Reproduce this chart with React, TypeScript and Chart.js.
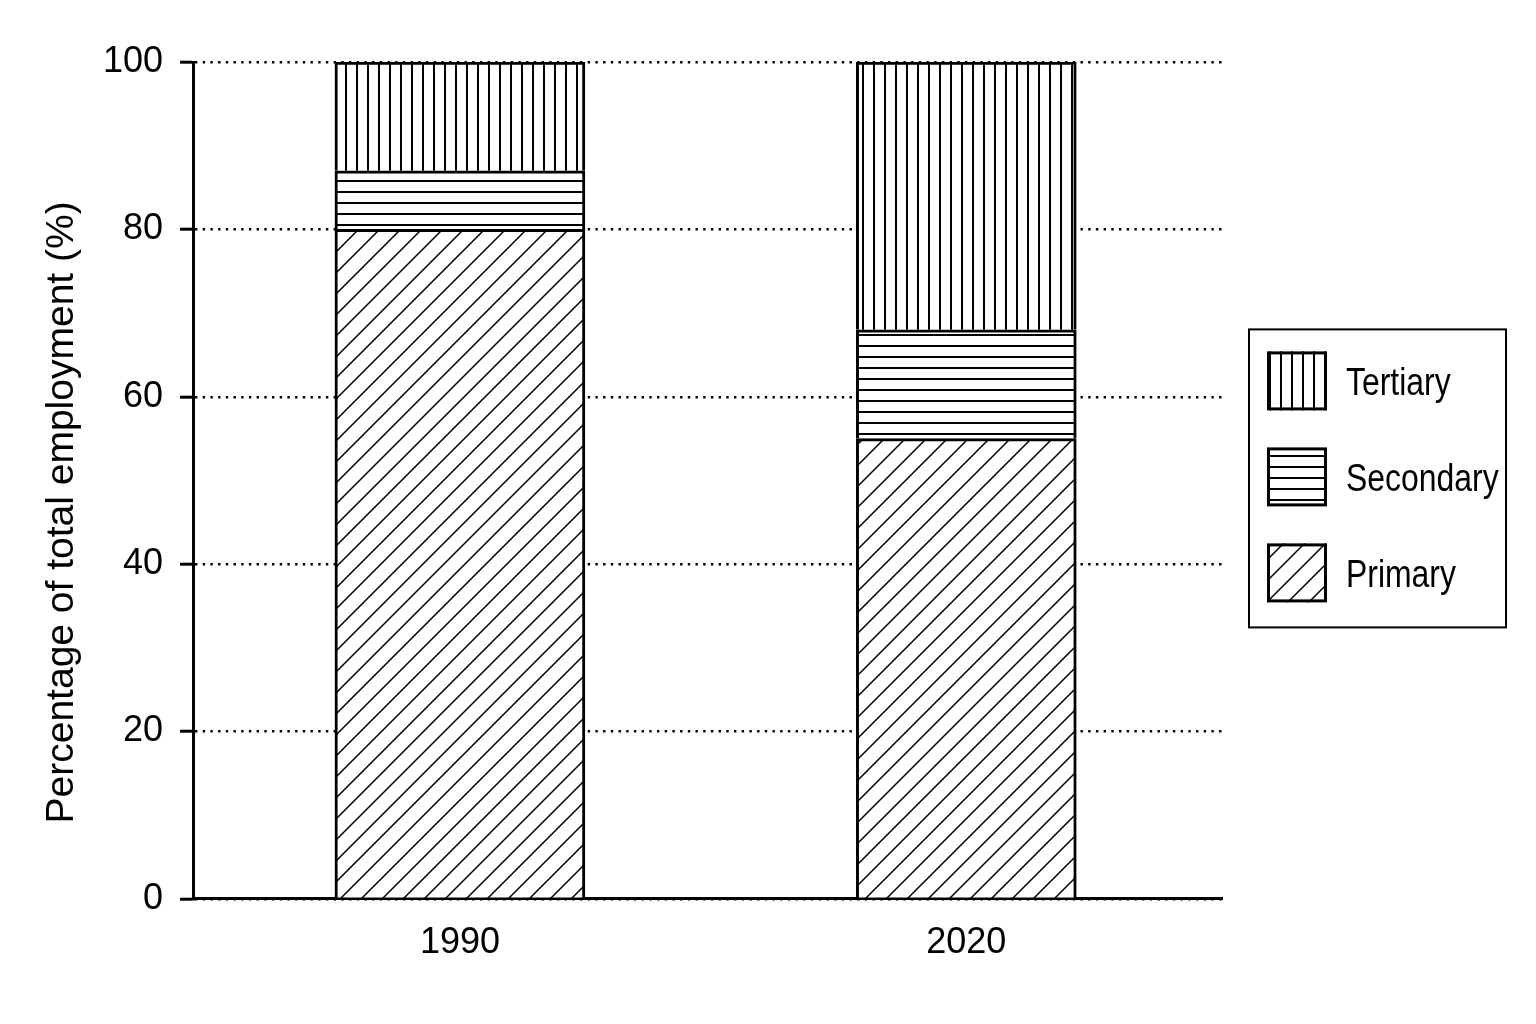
import { useEffect, useRef } from 'react'
import { Chart, registerables } from 'chart.js'

Chart.register(...registerables)

const YEARS = ['1990', '2020']
const PRIMARY = [80, 55]
const SECONDARY = [7, 13]
const TERTIARY = [13, 32]
const Y_TITLE = 'Percentage of total employment (%)'

type Hatch = 'diagonal' | 'horizontal' | 'vertical'

const SERIES: { label: string; values: number[]; hatch: Hatch }[] = [
  { label: 'Primary', values: PRIMARY, hatch: 'diagonal' },
  { label: 'Secondary', values: SECONDARY, hatch: 'horizontal' },
  { label: 'Tertiary', values: TERTIARY, hatch: 'vertical' },
]

// bars are not the same width in the original
const BAR_WIDTHS = [250, 220]
const FONT = 'Liberation Sans, Arial, Helvetica, sans-serif'

function makePattern(ctx: CanvasRenderingContext2D, hatch: Hatch): CanvasPattern {
  const s = hatch === 'diagonal' ? 21 : 11
  const c = document.createElement('canvas')
  c.width = s
  c.height = s
  const g = c.getContext('2d')!
  g.fillStyle = '#fff'
  g.fillRect(0, 0, s, s)
  g.strokeStyle = '#000'
  g.lineWidth = hatch === 'diagonal' ? 1.5 : 2
  g.beginPath()
  if (hatch === 'vertical') {
    g.moveTo(5, 0)
    g.lineTo(5, s)
  } else if (hatch === 'horizontal') {
    g.moveTo(0, 5)
    g.lineTo(s, 5)
  } else {
    g.moveTo(-1, s + 1)
    g.lineTo(s + 1, -1)
    g.moveTo(-s / 2, s / 2)
    g.lineTo(s / 2, -s / 2)
    g.moveTo(s / 2, s * 1.5)
    g.lineTo(s * 1.5, s / 2)
  }
  g.stroke()
  return ctx.createPattern(c, 'repeat')!
}

export default function App() {
  const canvasRef = useRef<HTMLCanvasElement | null>(null)

  useEffect(() => {
    if (!canvasRef.current) return
    const ctx = canvasRef.current.getContext('2d')
    if (!ctx) return

    const patterns: Record<Hatch, CanvasPattern> = {
      diagonal: makePattern(ctx, 'diagonal'),
      horizontal: makePattern(ctx, 'horizontal'),
      vertical: makePattern(ctx, 'vertical'),
    }

    // y title sits a bit below the middle of the axis in the original
    const axisTitle = {
      id: 'axisTitle',
      afterDraw(chart: Chart) {
        const c = chart.ctx
        const { left, top, bottom } = chart.chartArea
        c.save()
        c.translate(left - 120, (top + bottom) / 2 + 32)
        c.rotate(-Math.PI / 2)
        c.fillStyle = '#000'
        c.font = `39px ${FONT}`
        c.textAlign = 'center'
        c.textBaseline = 'alphabetic'
        c.fillText(Y_TITLE, 0, 0)
        c.restore()
      },
    }

    const boxLegend = {
      id: 'boxLegend',
      afterDraw(chart: Chart) {
        const c = chart.ctx
        const { right, top, bottom } = chart.chartArea
        const left = right + 27
        const mid = (top + bottom) / 2
        const boxTop = mid - 151
        c.save()
        c.strokeStyle = '#000'
        c.lineWidth = 2
        c.strokeRect(left, boxTop, 257, 298)
        ;[...SERIES].reverse().forEach((s, i) => {
          const y = boxTop + 22 + i * 96
          c.fillStyle = patterns[s.hatch]
          c.fillRect(left + 18, y, 60, 59)
          c.lineWidth = 3
          c.strokeRect(left + 19.5, y + 1.5, 57, 56)
          c.save()
          c.translate(left + 97, y + 29.5 + 14)
          c.scale(0.84, 1)
          c.fillStyle = '#000'
          c.font = `38px ${FONT}`
          c.textBaseline = 'alphabetic'
          c.fillText(s.label, 0, 0)
          c.restore()
        })
        c.restore()
      },
    }

    const chart = new Chart(ctx, {
      type: 'bar',
      data: {
        labels: YEARS,
        datasets: YEARS.flatMap((_, yi) =>
          SERIES.map((s) => ({
            label: s.label,
            data: YEARS.map((_, j) => (j === yi ? s.values[j] : null)),
            backgroundColor: patterns[s.hatch],
            borderColor: '#000',
            borderWidth: 3,
            borderSkipped: 'start' as const,
            barThickness: BAR_WIDTHS[yi],
          })),
        ),
      },
      options: {
        animation: false,
        responsive: true,
        maintainAspectRatio: false,
        layout: { padding: { left: 86, top: 62, right: 314, bottom: 36 } },
        scales: {
          x: {
            stacked: true,
            z: 1,
            grid: { display: false, drawTicks: false },
            border: { display: true, color: '#000', width: 3 },
            ticks: { color: '#000', font: { family: FONT, size: 36 }, padding: 23 },
            // the two bars sit a little closer together than an even split
            // eslint-disable-next-line @typescript-eslint/no-explicit-any
            afterBuildTicks: (scale: any) => {
              scale._startValue = -0.527
              scale._valueRange = 2.032
            },
          },
          y: {
            stacked: true,
            min: 0,
            max: 100,
            grid: {
              color: '#000',
              lineWidth: 2.4,
              tickLength: 13,
              tickWidth: 3,
              tickColor: '#000',
              tickBorderDash: [],
            },
            border: { display: true, color: '#000', width: 3, dash: [2.4, 5.3] },
            ticks: {
              stepSize: 20,
              color: '#000',
              font: { family: FONT, size: 36 },
              padding: 17,
            },
          },
        },
        plugins: {
          legend: { display: false },
          tooltip: { enabled: false },
        },
      },
      plugins: [axisTitle, boxLegend],
    })

    return () => {
      chart.destroy()
    }
  }, [])

  return (
    <div style={{ position: 'fixed', left: 0, top: 0, width: 1536, height: 1024, background: '#fff' }}>
      <canvas ref={canvasRef} />
    </div>
  )
}
